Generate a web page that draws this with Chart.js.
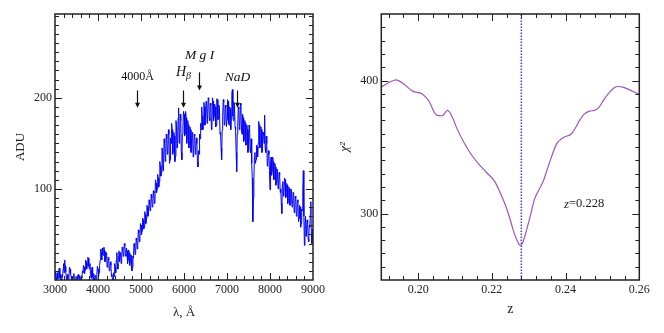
<!DOCTYPE html>
<html lang="en">
<head>
<meta charset="UTF-8">
<title>Spectrum and chi2</title>
<script src="https://cdn.jsdelivr.net/npm/chart.js@4.4.0/dist/chart.umd.min.js"></script>
<style>
    body { margin: 0; background: #fff; }
    #wrap { position: relative; width: 664px; height: 333px; }
    canvas { position: absolute; top: 0; }
</style>
</head>
<body>
<div id="wrap">
    <canvas id="spec" width="332" height="333" style="left:0"></canvas>
    <canvas id="chi" width="332" height="333" style="left:332px"></canvas>
</div>

<script>
// spectrum, one value every 12.5 A from 3000 to 9000
var waveStart = 3000, waveStep = 12.5;
var flux = [
    4, 9, 0, 3, 8, 1, 2, 10, 13, 2, 6, 0, 0, 5, 3, 12, 18, 8, 22, 15, 9, 3, 0, 6, 2, 0, 5, 14, 12, 6, 4, 0, 0, 3, 2, 7, 1, 0, 0, 4,
    3, 0, 0, 6, 2, 0, 5, 1, 0, 4, 2, 10, 8, 16, 14, 7, 11, 22, 20, 12, 16, 25, 24, 15, 12, 18, 6, 2, 10, 14, 3, 0, 7, 2, 0, 5, 4, 0, 9, 15,
    12, 4, 8, 16, 22, 34, 30, 22, 35, 28, 27, 36, 32, 20, 24, 30, 28, 14, 18, 25, 22, 10, 12, 20, 16, 4, 6, 0, 0, 8, 4, 18, 14, 8, 22, 30, 18, 12, 26, 32,
    20, 30, 28, 18, 24, 36, 34, 26, 30, 40, 38, 28, 26, 35, 32, 18, 22, 33, 30, 16, 20, 28, 26, 10, 14, 26, 24, 40, 36, 28, 30, 46, 44, 34, 38, 55, 52, 42, 46, 62,
    60, 50, 54, 68, 66, 56, 58, 75, 72, 62, 68, 82, 80, 70, 74, 88, 84, 76, 78, 94, 90, 80, 82, 98, 95, 84, 88, 110, 106, 96, 100, 116, 112, 102, 108, 130, 125, 114, 118, 145,
    142, 120, 128, 155, 150, 130, 136, 160, 155, 138, 140, 165, 160, 128, 132, 156, 150, 172, 165, 138, 142, 162, 158, 130, 136, 175, 170, 145, 150, 178, 189, 150, 160, 182, 175, 140, 132, 160, 168, 185,
    182, 158, 160, 185, 178, 150, 155, 175, 170, 145, 150, 168, 165, 140, 148, 162, 160, 135, 140, 160, 158, 138, 145, 156, 150, 130, 124, 142, 138, 160, 155, 172, 165, 190, 180, 165, 172, 195, 190, 170,
    178, 196, 195, 172, 182, 200, 198, 178, 175, 194, 192, 165, 168, 200, 196, 175, 180, 193, 190, 168, 170, 199, 198, 176, 178, 192, 188, 160, 162, 145, 132, 165, 180, 198, 195, 170, 172, 192, 190, 168,
    176, 198, 196, 172, 170, 190, 188, 165, 180, 205, 209, 180, 175, 195, 192, 168, 165, 140, 119, 160, 170, 190, 188, 165, 168, 194, 192, 162, 160, 182, 178, 152, 155, 175, 172, 148, 150, 170, 165, 140,
    148, 170, 168, 142, 140, 155, 128, 112, 64, 90, 110, 135, 140, 128, 132, 148, 146, 135, 150, 174, 170, 145, 148, 168, 165, 140, 145, 162, 160, 150, 181, 145, 140, 158, 150, 125, 128, 142, 138, 120,
    99, 128, 135, 115, 120, 135, 130, 110, 112, 128, 124, 104, 108, 122, 120, 100, 104, 118, 115, 96, 100, 84, 73, 105, 108, 92, 96, 112, 110, 90, 92, 106, 104, 84, 88, 102, 100, 82, 85, 100,
    98, 80, 82, 96, 95, 74, 78, 92, 90, 70, 72, 88, 86, 64, 68, 82, 80, 58, 62, 78, 76, 98, 120, 70, 38, 60, 70, 48, 55, 66, 62, 45, 42, 60, 58, 72, 86, 50, 40, 56,
    44
];

// marked lines: wavelength, arrow from/to (ADU), label height (ADU)
var markNames = ['4000Å', 'Hβ', 'MgI', 'NaD'];
var markWave = [4910, 5970, 6360, 7240];
var markArrowTop = [208, 208, 228, 208];
var markArrowEnd = [189, 189, 208, 189];
var markTextY = [223, 228, 246, 222];

// chi2 curve
var chiZ = [0.190, 0.1925, 0.194, 0.196, 0.1985, 0.201, 0.2028, 0.205, 0.2065, 0.208,
    0.2095, 0.2105, 0.2125, 0.2145, 0.2165, 0.2185, 0.2208, 0.2222, 0.2235, 0.2248,
    0.2258, 0.2268, 0.2277, 0.2285, 0.2294, 0.2305, 0.2316, 0.2328, 0.2339, 0.235,
    0.2361, 0.2375, 0.2388, 0.2397, 0.2416, 0.2428, 0.2438, 0.245, 0.2465, 0.2478,
    0.2488, 0.2505, 0.2519, 0.2532, 0.2542, 0.2555, 0.2569, 0.2585, 0.260];
var chiVal = [395, 399, 400.5, 397.5, 392, 390, 385, 374, 373.5, 377.5,
    371, 364, 353, 344, 337, 331, 324, 316, 307.5, 297,
    287.5, 280, 276, 279, 287.5, 299, 311, 318, 324, 333,
    342, 352, 356, 357.5, 360, 365, 370, 374.5, 377, 377.5,
    379, 386, 391, 394.5, 395.5, 395, 393.5, 391.5, 389.5];
var bestZ = 0.228;

// tick labels
var specXLabels = [3000, 4000, 5000, 6000, 7000, 8000, 9000];
var specYLabels = [100, 200];
var chiXLabels = [0.20, 0.22, 0.24, 0.26];
var chiYLabels = [300, 400];

var serif = "'Liberation Serif', 'Times New Roman', serif";
var ink = '#222';

function steps(from, to, step) {
    var out = [];
    for (var v = from; v <= to + step / 1000; v += step) out.push(Math.round(v * 10000) / 10000);
    return out;
}
function hasVal(list, v) {
    return list.some(function (l) { return Math.abs(l - v) < 1e-6; });
}
function useTicks(list) {
    return function (scale) { scale.ticks = list.map(function (v) { return {value: v}; }); };
}
function fixWidth(w) { return function (scale) { scale.width = w; }; }
function fixHeight(h) { return function (scale) { scale.height = h; }; }

// box round the plot, with ticks pointing inwards on all four sides
var frameTicks = {
    id: 'frameTicks',
    afterDatasetsDraw: function (chart) {
        var ctx = chart.ctx, a = chart.chartArea;
        var xs = chart.scales.x, ys = chart.scales.y;
        ctx.save();
        ctx.strokeStyle = ink;
        ctx.lineWidth = 1;
        ctx.beginPath();
        xs.ticks.forEach(function (t) {
            var px = Math.round(xs.getPixelForValue(t.value)) + 0.5;
            if (px <= a.left + 1 || px >= a.right - 1) return;
            var len = t.label !== '' ? 7 : 4;
            ctx.moveTo(px, a.bottom); ctx.lineTo(px, a.bottom - len);
            ctx.moveTo(px, a.top); ctx.lineTo(px, a.top + len);
        });
        ys.ticks.forEach(function (t) {
            var py = Math.round(ys.getPixelForValue(t.value)) + 0.5;
            if (py <= a.top + 1 || py >= a.bottom - 1) return;
            var len = t.label !== '' ? 7 : 4;
            ctx.moveTo(a.left, py); ctx.lineTo(a.left + len, py);
            ctx.moveTo(a.right, py); ctx.lineTo(a.right - len, py);
        });
        ctx.stroke();
        ctx.lineWidth = 1.5;
        ctx.strokeRect(a.left, a.top, a.right - a.left, a.bottom - a.top);
        ctx.restore();
    }
};

// draws a run of text pieces with their own fonts, centred at x
function drawRuns(ctx, runs, x, y) {
    var total = 0;
    runs.forEach(function (r) { ctx.font = r.font; total += ctx.measureText(r.text).width; });
    var cx = x - total / 2;
    runs.forEach(function (r) {
        ctx.font = r.font;
        ctx.fillText(r.text, cx, y + (r.dy || 0));
        cx += ctx.measureText(r.text).width;
    });
}

var markRuns = {
    '4000Å': [{text: '4000Å', font: '12px ' + serif}],
    'Hβ': [{text: 'H', font: 'italic 14px ' + serif}, {text: 'β', font: 'italic 10px ' + serif, dy: 4}],
    'MgI': [{text: 'M g I', font: 'italic 13.5px ' + serif}],
    'NaD': [{text: 'NaD', font: 'italic 13.5px ' + serif}]
};

var specMarks = {
    id: 'specMarks',
    afterDraw: function (chart) {
        var ctx = chart.ctx, xs = chart.scales.x, ys = chart.scales.y;
        ctx.save();
        ctx.fillStyle = '#111';
        ctx.strokeStyle = '#111';
        ctx.lineWidth = 1.2;
        ctx.textBaseline = 'middle';
        ctx.textAlign = 'left';
        markNames.forEach(function (name, i) {
            var px = Math.round(xs.getPixelForValue(markWave[i])) + 0.5;
            var y0 = ys.getPixelForValue(markArrowTop[i]);
            var y1 = ys.getPixelForValue(markArrowEnd[i]);
            ctx.beginPath();
            ctx.moveTo(px, y0); ctx.lineTo(px, y1 - 4);
            ctx.stroke();
            ctx.beginPath();
            ctx.moveTo(px - 2.5, y1 - 5); ctx.lineTo(px + 2.5, y1 - 5); ctx.lineTo(px, y1);
            ctx.closePath();
            ctx.fill();
            drawRuns(ctx, markRuns[name], px, ys.getPixelForValue(markTextY[i]));
        });
        ctx.restore();
    }
};

var chiNote = {
    id: 'chiNote',
    afterDraw: function (chart) {
        var ctx = chart.ctx, xs = chart.scales.x, ys = chart.scales.y;
        ctx.save();
        ctx.fillStyle = ink;
        ctx.textBaseline = 'middle';
        drawRuns(ctx, [{text: 'z', font: 'italic 13px ' + serif}, {text: '=0.228', font: '12.5px ' + serif}],
            xs.getPixelForValue(0.2450), ys.getPixelForValue(307));
        ctx.restore();
    }
};

function axisFont(size) { return {family: serif, size: size}; }

var specPoints = flux.map(function (v, i) { return {x: waveStart + i * waveStep, y: v}; });

new Chart(document.getElementById('spec').getContext('2d'), {
    type: 'line',
    data: {
        datasets: [{
            data: specPoints,
            borderColor: '#0000ff',
            borderWidth: 1,
            pointRadius: 0,
            tension: 0
        }]
    },
    options: {
        responsive: false,
        animation: false,
        devicePixelRatio: 1,
        layout: {padding: {top: 14, right: 19, left: 0, bottom: 0}},
        plugins: {legend: {display: false}, tooltip: {enabled: false}},
        scales: {
            x: {
                type: 'linear', min: 3000, max: 9000,
                afterBuildTicks: useTicks(steps(3000, 9000, 200)),
                afterFit: fixHeight(53),
                grid: {display: false, drawTicks: false},
                border: {display: false},
                ticks: {
                    autoSkip: false, maxRotation: 0, padding: 3, color: ink, font: axisFont(12),
                    callback: function (v) { return hasVal(specXLabels, v) ? String(v) : ''; }
                },
                title: {display: true, text: 'λ, Å', color: ink, font: axisFont(13), padding: {top: 0, bottom: 13}}
            },
            y: {
                type: 'linear', min: 0, max: 292,
                afterBuildTicks: useTicks(steps(10, 290, 10)),
                afterFit: fixWidth(55),
                grid: {display: false, drawTicks: false},
                border: {display: false},
                ticks: {
                    autoSkip: false, padding: 3, color: ink, font: axisFont(12),
                    callback: function (v) { return hasVal(specYLabels, v) ? String(v) : ''; }
                },
                title: {display: true, text: 'ADU', color: ink, font: axisFont(13), padding: {top: 13, bottom: 0}}
            }
        }
    },
    plugins: [frameTicks, specMarks]
});

var chiPoints = chiZ.map(function (z, i) { return {x: z, y: chiVal[i]}; });

new Chart(document.getElementById('chi').getContext('2d'), {
    type: 'line',
    data: {
        datasets: [{
            data: chiPoints,
            borderColor: '#9a58bd',
            borderWidth: 1.2,
            pointRadius: 0,
            cubicInterpolationMode: 'monotone'
        }, {
            data: [{x: bestZ, y: 250}, {x: bestZ, y: 450}],
            borderColor: '#3a3aff',
            borderWidth: 1.5,
            borderDash: [1.5, 1.5],
            pointRadius: 0
        }]
    },
    options: {
        responsive: false,
        animation: false,
        devicePixelRatio: 1,
        layout: {padding: {top: 14, right: 24.7, left: 0, bottom: 0}},
        plugins: {legend: {display: false}, tooltip: {enabled: false}},
        scales: {
            x: {
                type: 'linear', min: 0.19, max: 0.26,
                afterBuildTicks: useTicks(steps(0.192, 0.26, 0.004)),
                afterFit: fixHeight(53),
                grid: {display: false, drawTicks: false},
                border: {display: false},
                ticks: {
                    autoSkip: false, maxRotation: 0, padding: 3, color: ink, font: axisFont(12),
                    callback: function (v) { return hasVal(chiXLabels, v) ? v.toFixed(2) : ''; }
                },
                title: {display: true, text: 'z', color: ink, font: axisFont(14), padding: {top: 0, bottom: 15}}
            },
            y: {
                type: 'linear', min: 250, max: 450,
                afterBuildTicks: useTicks(steps(260, 440, 10)),
                afterFit: fixWidth(49.3),
                grid: {display: false, drawTicks: false},
                border: {display: false},
                ticks: {
                    autoSkip: false, padding: 3, color: ink, font: axisFont(12),
                    callback: function (v) { return hasVal(chiYLabels, v) ? String(v) : ''; }
                },
                title: {display: true, text: 'χ²', color: ink, font: {family: serif, size: 13, style: 'italic'}, padding: {top: 5, bottom: 0}}
            }
        }
    },
    plugins: [frameTicks, chiNote]
});
</script>
</body>
</html>
